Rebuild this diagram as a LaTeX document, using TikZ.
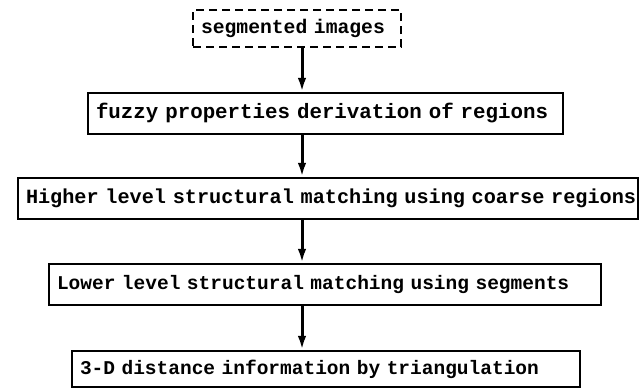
\documentclass[tikz,border=0pt]{standalone}
\usepackage{fontspec}
\setmonofont{Liberation Mono}[WordSpace={1,0,0}]
\usetikzlibrary{arrows.meta}
\begin{document}
\begin{tikzpicture}[x=1pt,y=-1pt,
  fs/.style={font=\ttfamily\bfseries\fontsize{#1}{22}\selectfont},
  boxstyle/.style={draw=black, line width=2.2pt, rectangle, inner xsep=8pt, inner ysep=0pt,
    align=left, fs=20},
  dashbox/.style={boxstyle, line width=1.4pt, dash pattern=on 8pt off 5pt},
  arr/.style={line width=3pt, -{Latex[length=14pt,width=8.5pt]}}]
\useasboundingbox (0,0) rectangle (642,389);
\fill[white] (0,0) rectangle (642,389);
\coordinate (ax) at (302,0);
\node[dashbox, fs=19.7, text width=192pt, minimum height=37pt] (b1) at (297,28.5) {\mbox{segmented images}};
\node[boxstyle, fs=20.8, text width=459pt, minimum height=41pt] (b2) at (325.5,113.5) {\mbox{fuzzy properties derivation of regions}};
\node[boxstyle, fs=20.2, text width=604pt, minimum height=41pt] (b3) at (328,198.5) {\mbox{Higher level structural matching using coarse regions}};
\node[boxstyle, fs=19.5, text width=536pt, minimum height=41pt] (b4) at (325,284.5) {\mbox{Lower level structural matching using segments}};
\node[boxstyle, fs=19.5, text width=492pt, minimum height=36pt] (b5) at (326,369) {\mbox{3-D distance information by triangulation}};
\draw[arr] (b1.south -| ax) -- (b2.north -| ax);
\draw[arr] (b2.south -| ax) -- (b3.north -| ax);
\draw[arr] (b3.south -| ax) -- (b4.north -| ax);
\draw[arr] (b4.south -| ax) -- (b5.north -| ax);
\end{tikzpicture}
\end{document}
